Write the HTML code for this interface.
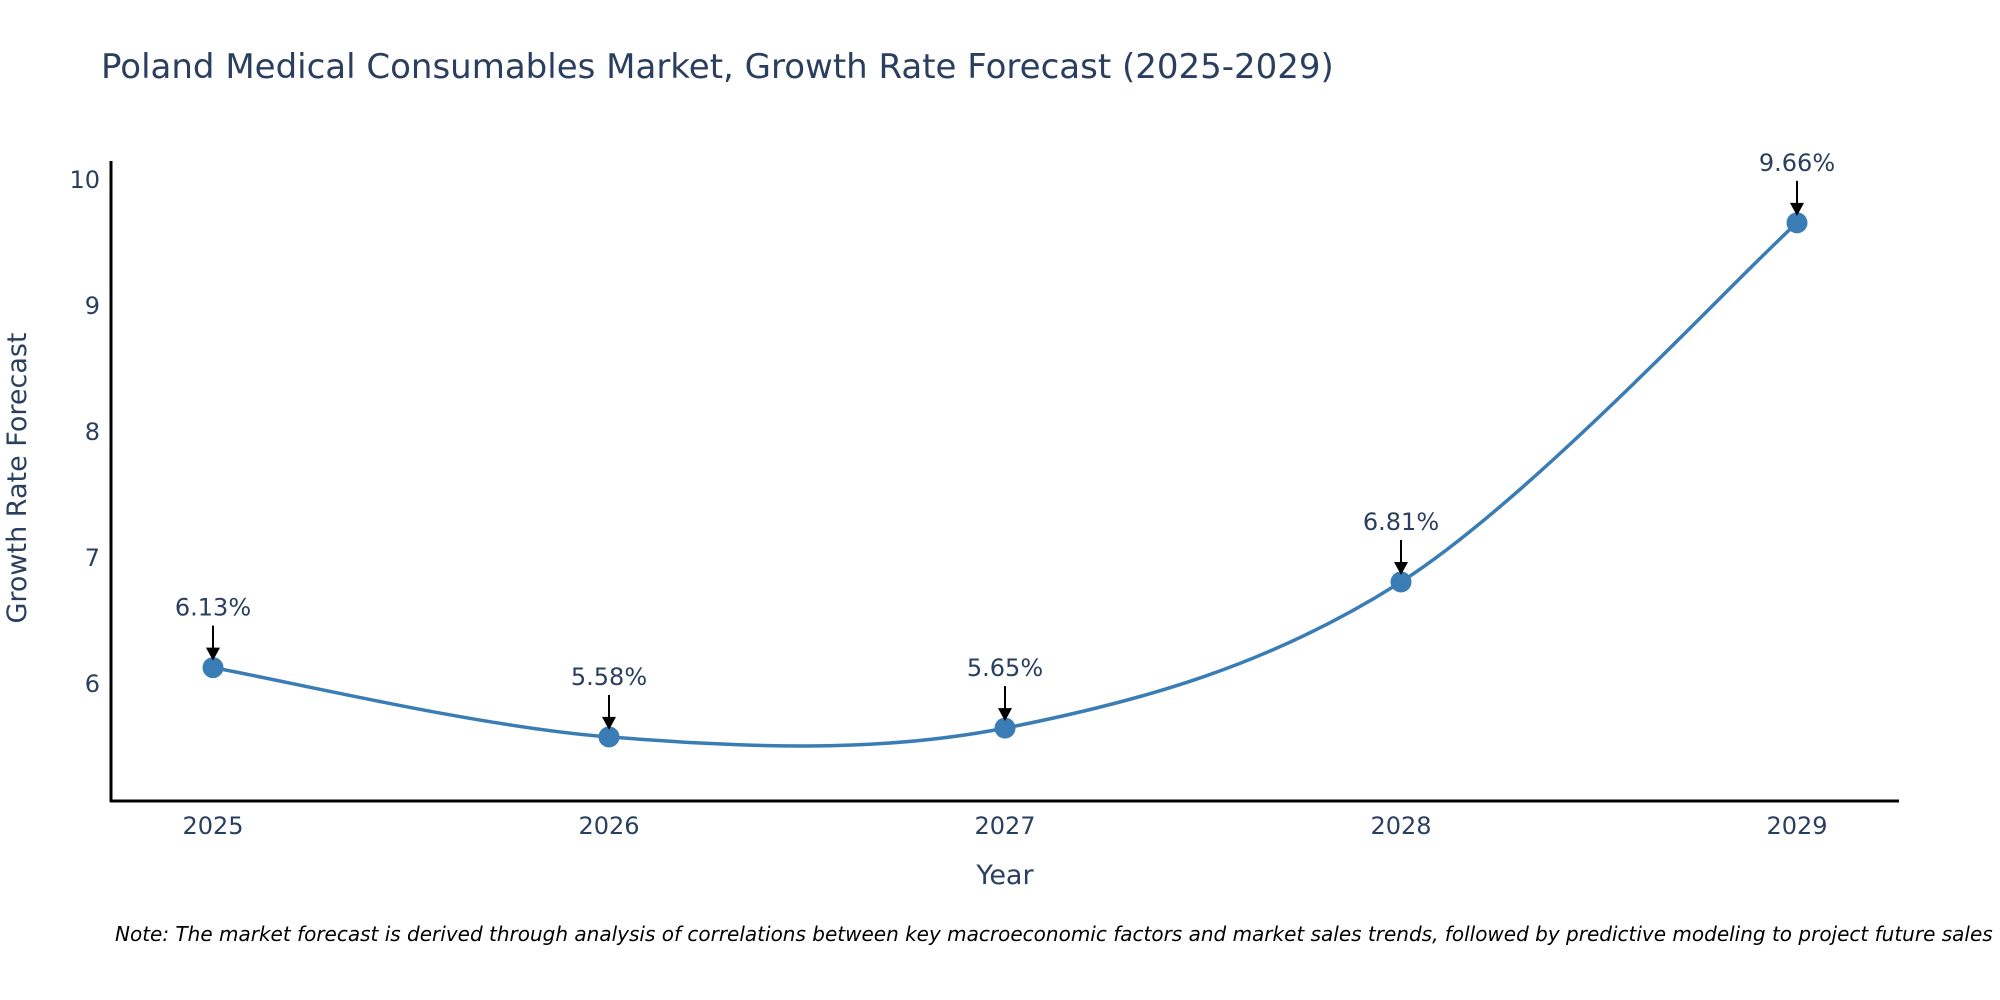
<!DOCTYPE html>
<html><head><meta charset="utf-8"><style>
body{margin:0;background:#fff;}
svg{display:block;font-family:"DejaVu Sans","Liberation Sans",sans-serif;}
</style></head><body>
<svg id="chart" width="2000" height="1000" viewBox="0 0 2000 1000">
<text x="101" y="78" font-size="34" fill="#2a3f5f">Poland Medical Consumables Market, Growth Rate Forecast (2025-2029)</text>
<g id="yticks"></g>
<g id="xticks"></g>
<line x1="111" y1="161" x2="111" y2="802" stroke="#000" stroke-width="3"/>
<line x1="110" y1="801" x2="1899" y2="801" stroke="#000" stroke-width="3"/>
<path id="line" fill="none" stroke="#3a7db5" stroke-width="3.5"/>
<g id="points"></g>
<g id="annots"></g>
<text x="26" y="478" font-size="27" fill="#2a3f5f" text-anchor="middle" transform="rotate(-90 26 478)">Growth Rate Forecast</text>
<text x="1005" y="884" font-size="27" fill="#2a3f5f" text-anchor="middle">Year</text>
<text x="115" y="941" font-size="20" font-style="italic" fill="#000">Note: The market forecast is derived through analysis of correlations between key macroeconomic factors and market sales trends, followed by predictive modeling to project future sales</text>
</svg>
<script>
const years = [2025, 2026, 2027, 2028, 2029];
const values = [6.13, 5.58, 5.65, 6.81, 9.66];
const labels = ["6.13%", "5.58%", "5.65%", "6.81%", "9.66%"];
const yTickVals = [6, 7, 8, 9, 10];
const NS = "http://www.w3.org/2000/svg";
function xs(v){ return 213 + (v - 2025) * 396; }
function ys(v){ return 684 - (v - 6) * 126; }
function mk(tag, attrs, parent){ const e=document.createElementNS(NS,tag); for(const k in attrs) e.setAttribute(k,attrs[k]); parent.appendChild(e); return e; }
const yt=document.getElementById('yticks');
yTickVals.forEach(v=>{ const t=mk('text',{x:100,y:ys(v)+8,'font-size':24,fill:'#2a3f5f','text-anchor':'end'},yt); t.textContent=v;

 });
const xt=document.getElementById('xticks');
years.forEach(v=>{ const t=mk('text',{x:xs(v),y:834,'font-size':24,fill:'#2a3f5f','text-anchor':'middle'},xt); t.textContent=v;

 });
const P=years.map((y,i)=>[xs(y),ys(values[i])]);
let d=`M${P[0][0]},${P[0][1]}`;
for(let i=0;i<P.length-1;i++){
 const p0=P[Math.max(0,i-1)],p1=P[i],p2=P[i+1],p3=P[Math.min(P.length-1,i+2)];
 const t=0.5/3*2;
 const c1=[p1[0]+(p2[0]-p0[0])*t/2, p1[1]+(p2[1]-p0[1])*t/2];
 const c2=[p2[0]-(p3[0]-p1[0])*t/2, p2[1]-(p3[1]-p1[1])*t/2];
 d+=` C${c1[0]},${c1[1]} ${c2[0]},${c2[1]} ${p2[0]},${p2[1]}`;
}
document.getElementById('line').setAttribute('d',d);
const pts=document.getElementById('points'), an=document.getElementById('annots');
P.forEach((p,i)=>{
 const c=mk('circle',{cx:p[0],cy:p[1],r:10.5,fill:'#3a7db5'},pts);
 
 
 const l=mk('line',{x1:p[0],y1:p[1]-42,x2:p[0],y2:p[1]-18,stroke:'#000','stroke-width':2},an);
 
 
 const h=mk('polygon',{points:`${p[0]-7},${p[1]-20} ${p[0]+7},${p[1]-20} ${p[0]},${p[1]-7}`,fill:'#000'},an);
 
 
 const t=mk('text',{x:p[0],y:p[1]-52,'font-size':24,fill:'#2a3f5f','text-anchor':'middle'},an);
 t.textContent=labels[i];
 
 
});
</script>
</body></html>
